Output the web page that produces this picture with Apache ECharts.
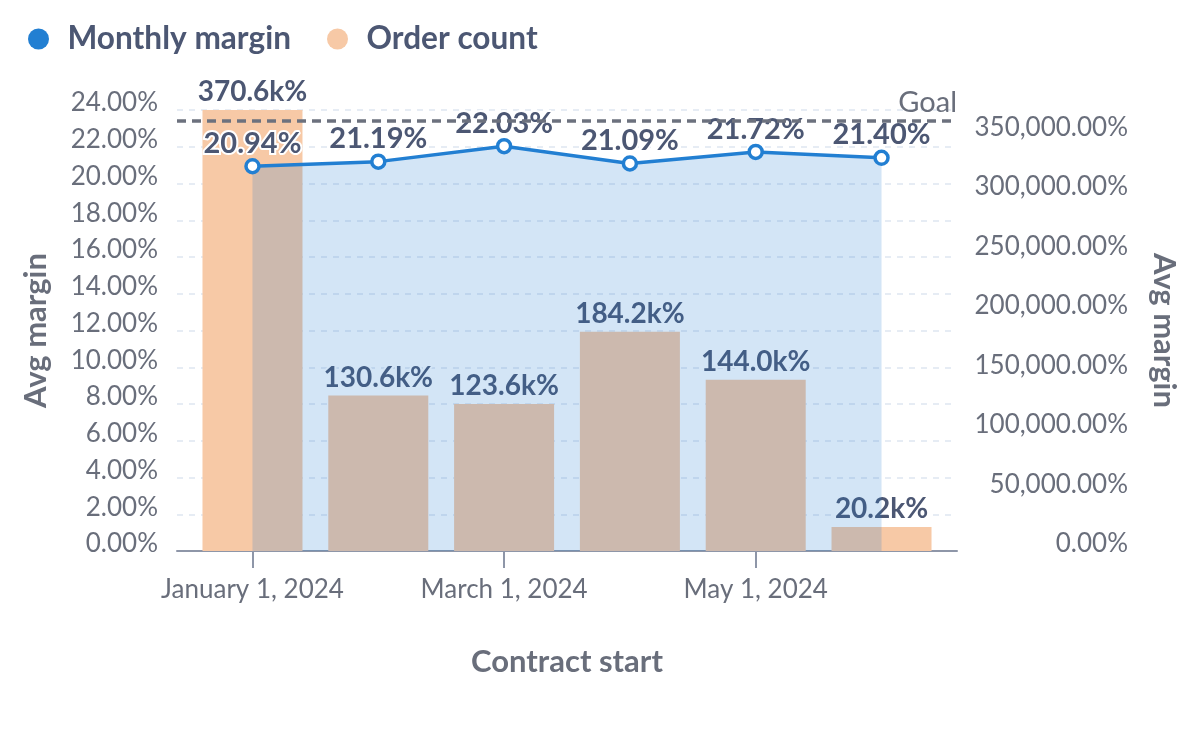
<!DOCTYPE html>
<html>
<head>
<meta charset="utf-8">
<script src="https://cdn.jsdelivr.net/npm/echarts@6/dist/echarts.min.js"></script>
<style>
  html, body { margin: 0; padding: 0; background: #ffffff; }
  #chart { width: 1200px; height: 738px; }
</style>
</head>
<body>
<div id="chart"></div>
<script>
// ---- data ----
const months = ['January 1, 2024', 'February 1, 2024', 'March 1, 2024', 'April 1, 2024', 'May 1, 2024', 'June 1, 2024'];
const monthlyMargin = [20.94, 21.19, 22.03, 21.09, 21.72, 21.40];   // percent
const orderCount = [3706, 1306, 1236, 1842, 1440, 202];             // shown as percent x100
const goalValue = 23.4;                                            // percent
const labeledMonths = [0, 2, 4];
const leftTicks = [0, 24, 2];        // min, max, step (percent)
const rightTicks = [0, 500];         // min, step

// ---- styles ----
const FONT = 'Lato, "Noto Sans", sans-serif';
const DARK = '#4C5773';
const GRAY = '#696E7B';
const BLUE = '#227FD2';
const PEACH = '#F7C9A6';

const chart = echarts.init(document.getElementById('chart'), null, { renderer: 'canvas' });

const lineData = monthlyMargin.map((v, i) => [i, v]);
const barData = orderCount.map((v, i) => [i, v]);

function fmtPct2(v) {
  return v.toLocaleString('en-US', { minimumFractionDigits: 2, maximumFractionDigits: 2 }) + '%';
}

const option = {
  backgroundColor: '#ffffff',
  animation: false,
  textStyle: { fontFamily: FONT },
  legend: {
    data: [
      { name: 'Monthly margin', itemStyle: { color: BLUE, borderWidth: 0 } },
      { name: 'Order count', itemStyle: { color: PEACH, borderWidth: 0 } }
    ],
    left: 28, top: 23, padding: 0,
    icon: 'circle',
    itemWidth: 48, itemHeight: 21, itemGap: 36,
    textStyle: { fontFamily: FONT, fontSize: 31.6, fontWeight: 'bold', color: DARK }
  },
  grid: { left: 177, right: 243, top: 110, bottom: 187, containLabel: false },
  xAxis: {
    type: 'value',
    min: -0.6, max: 5.6,
    name: 'Contract start',
    nameLocation: 'middle',
    nameGap: 95,
    nameTextStyle: { fontFamily: FONT, fontSize: 31, fontWeight: 'bold', color: GRAY },
    axisLine: { show: true, lineStyle: { color: '#8E96A8', width: 2 } },
    axisTick: { show: true, customValues: labeledMonths, length: 17, lineStyle: { color: '#8E96A8', width: 2 } },
    axisLabel: {
      customValues: labeledMonths,
      formatter: v => months[Math.round(v)] || '',
      fontFamily: FONT, fontSize: 26, color: GRAY, margin: 26
    },
    splitLine: { show: false }
  },
  yAxis: [
    {
      type: 'value',
      min: leftTicks[0], max: leftTicks[1], interval: leftTicks[2],
      name: 'Avg margin',
      nameLocation: 'middle',
      nameGap: 126,
      nameTextStyle: { fontFamily: FONT, fontSize: 31, fontWeight: 'bold', color: GRAY },
      axisLine: { show: false },
      axisTick: { show: false },
      axisLabel: {
        formatter: v => fmtPct2(v),
        fontFamily: FONT, fontSize: 26, color: GRAY, margin: 19,
        verticalAlign: 'bottom', lineHeight: 14
      },
      splitLine: { show: true, lineStyle: { color: '#E6ECF4', width: 2, type: [6, 6] } }
    },
    {
      type: 'value',
      min: rightTicks[0], max: 'dataMax', interval: rightTicks[1],
      name: 'Avg margin',
      nameLocation: 'middle',
      nameRotate: -90,
      nameGap: 191,
      nameTextStyle: { fontFamily: FONT, fontSize: 31, fontWeight: 'bold', color: GRAY },
      axisLine: { show: false },
      axisTick: { show: false },
      axisLabel: {
        showMaxLabel: false,
        formatter: v => fmtPct2(v * 100),
        fontFamily: FONT, fontSize: 26, color: GRAY, margin: 171, align: 'right',
        verticalAlign: 'bottom', lineHeight: 14
      },
      splitLine: { show: false }
    }
  ],
  series: [
    {
      name: 'Order count',
      type: 'bar',
      yAxisIndex: 1,
      barWidth: 100,
      data: barData,
      itemStyle: { color: PEACH },
      label: {
        show: true, position: 'top', distance: 4,
        formatter: p => (p.value[1] * 100 / 1000).toFixed(1) + 'k%',
        fontFamily: FONT, fontSize: 28, fontWeight: 'bold', color: DARK,
        textBorderColor: '#ffffff', textBorderWidth: 4
      }
    },
    {
      name: 'Monthly margin',
      type: 'line',
      yAxisIndex: 0,
      data: lineData,
      color: BLUE,
      lineStyle: { color: BLUE, width: 3.5 },
      itemStyle: { color: '#ffffff', borderColor: BLUE, borderWidth: 3.5 },
      symbol: 'circle',
      symbolSize: 13,
      areaStyle: { color: BLUE, opacity: 0.2 },
      label: {
        show: true, position: 'top', distance: 0,
        formatter: p => fmtPct2(p.value[1]),
        fontFamily: FONT, fontSize: 29, fontWeight: 'bold', color: DARK,
        textBorderColor: '#ffffff', textBorderWidth: 4
      },
      markLine: {
        silent: true,
        symbol: ['none', 'none'],
        lineStyle: { color: '#6C717E', width: 3.5, type: [9, 6] },
        label: {
          show: true, position: 'insideEndTop', distance: [0, 4],
          formatter: 'Goal',
          fontFamily: FONT, fontSize: 29, color: GRAY
        },
        data: [{ yAxis: goalValue }]
      }
    }
  ]
};

chart.setOption(option);
</script>
</body>
</html>
